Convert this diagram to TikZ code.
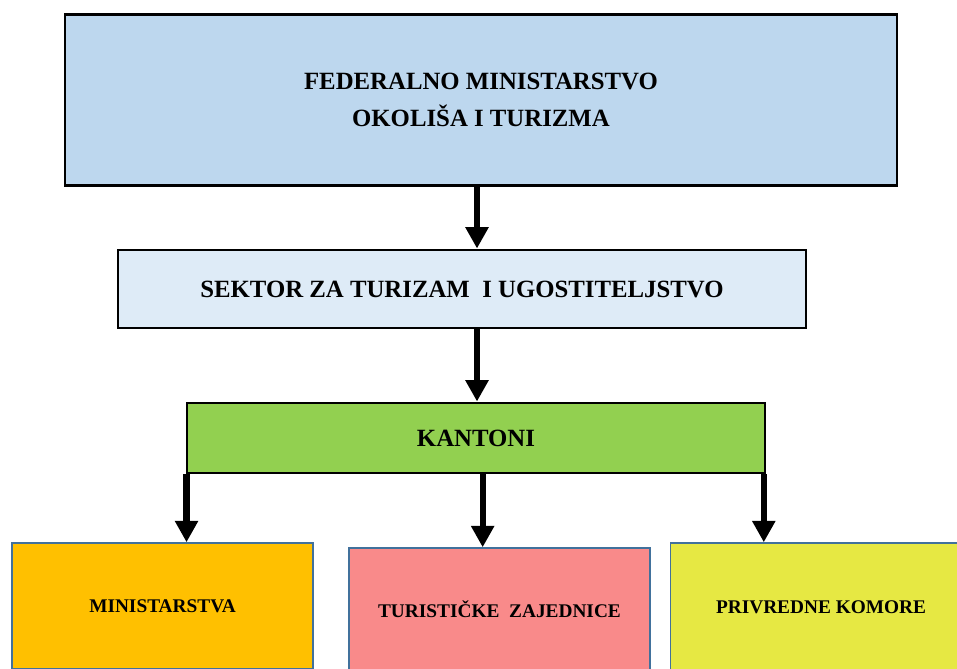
\documentclass[tikz,border=0pt]{standalone}
\usepackage{fontspec}
\setmainfont{Liberation Serif}
\usetikzlibrary{arrows.meta}
\definecolor{fedblue}{HTML}{BDD7EE}
\definecolor{sekblue}{HTML}{DEEBF7}
\definecolor{kantgreen}{HTML}{92D050}
\definecolor{minorange}{HTML}{FFC000}
\definecolor{turpink}{HTML}{F98A8A}
\definecolor{privyellow}{HTML}{E6E843}
\definecolor{edgeblue}{HTML}{41719C}

\begin{document}
\begin{tikzpicture}[x=0.75pt, y=-0.75pt,
  headbox/.style={rectangle, draw, line width=2.2pt, align=center,
    font=\fontsize{18.6}{27.5}\selectfont\bfseries},
  unitbox/.style={rectangle, draw=edgeblue, line width=1.1pt, align=center,
    minimum width=226pt, font=\fontsize{14.5}{17}\selectfont\bfseries},
  down/.style={-{Triangle[width=16.5pt,length=16pt]}, line width=4.6pt}]
\useasboundingbox (0,0) rectangle (957,668);
\clip (0,0) rectangle (957,668);
\path (481,100) node[headbox, fill=fedblue, minimum width=624pt, minimum height=128pt](fed) {FEDERALNO MINISTARSTVO\\OKOLIŠA I TURIZMA}
(462,289) node[headbox, fill=sekblue, minimum width=516pt, minimum height=58.5pt](sek) {SEKTOR ZA TURIZAM~ I UGOSTITELJSTVO}
(476,438) node[headbox, fill=kantgreen, minimum width=433.5pt, minimum height=52.5pt](kant) {KANTONI}
(162.5,606) node[unitbox, fill=minorange, minimum height=94.5pt](min) {MINISTARSTVA}
(499.5,609) node[unitbox, fill=turpink, minimum height=91.5pt](tur) {TURISTIČKE~ ZAJEDNICE}
(821,607) node[unitbox, fill=privyellow, minimum height=96pt](priv) {PRIVREDNE KOMORE};
%\draw[down] (fed) -- (kant);
\draw[down] (fed.south -| 477,0) -- (sek.north -| 477,0);
\draw[down] (sek.south -| 477,0) -- (kant.north -| 477,0);
\draw[down] ([xshift=0.75pt]kant.south west) -- ([xshift=0.75pt]kant.south west |- min.north);
\draw[down] ([xshift=5pt]kant.south) -- ([xshift=5pt]kant.south |- tur.north);
\draw[down] ([xshift=-2pt]kant.south east) -- ([xshift=-2pt]kant.south east |- priv.north);
\end{tikzpicture}
\end{document}
